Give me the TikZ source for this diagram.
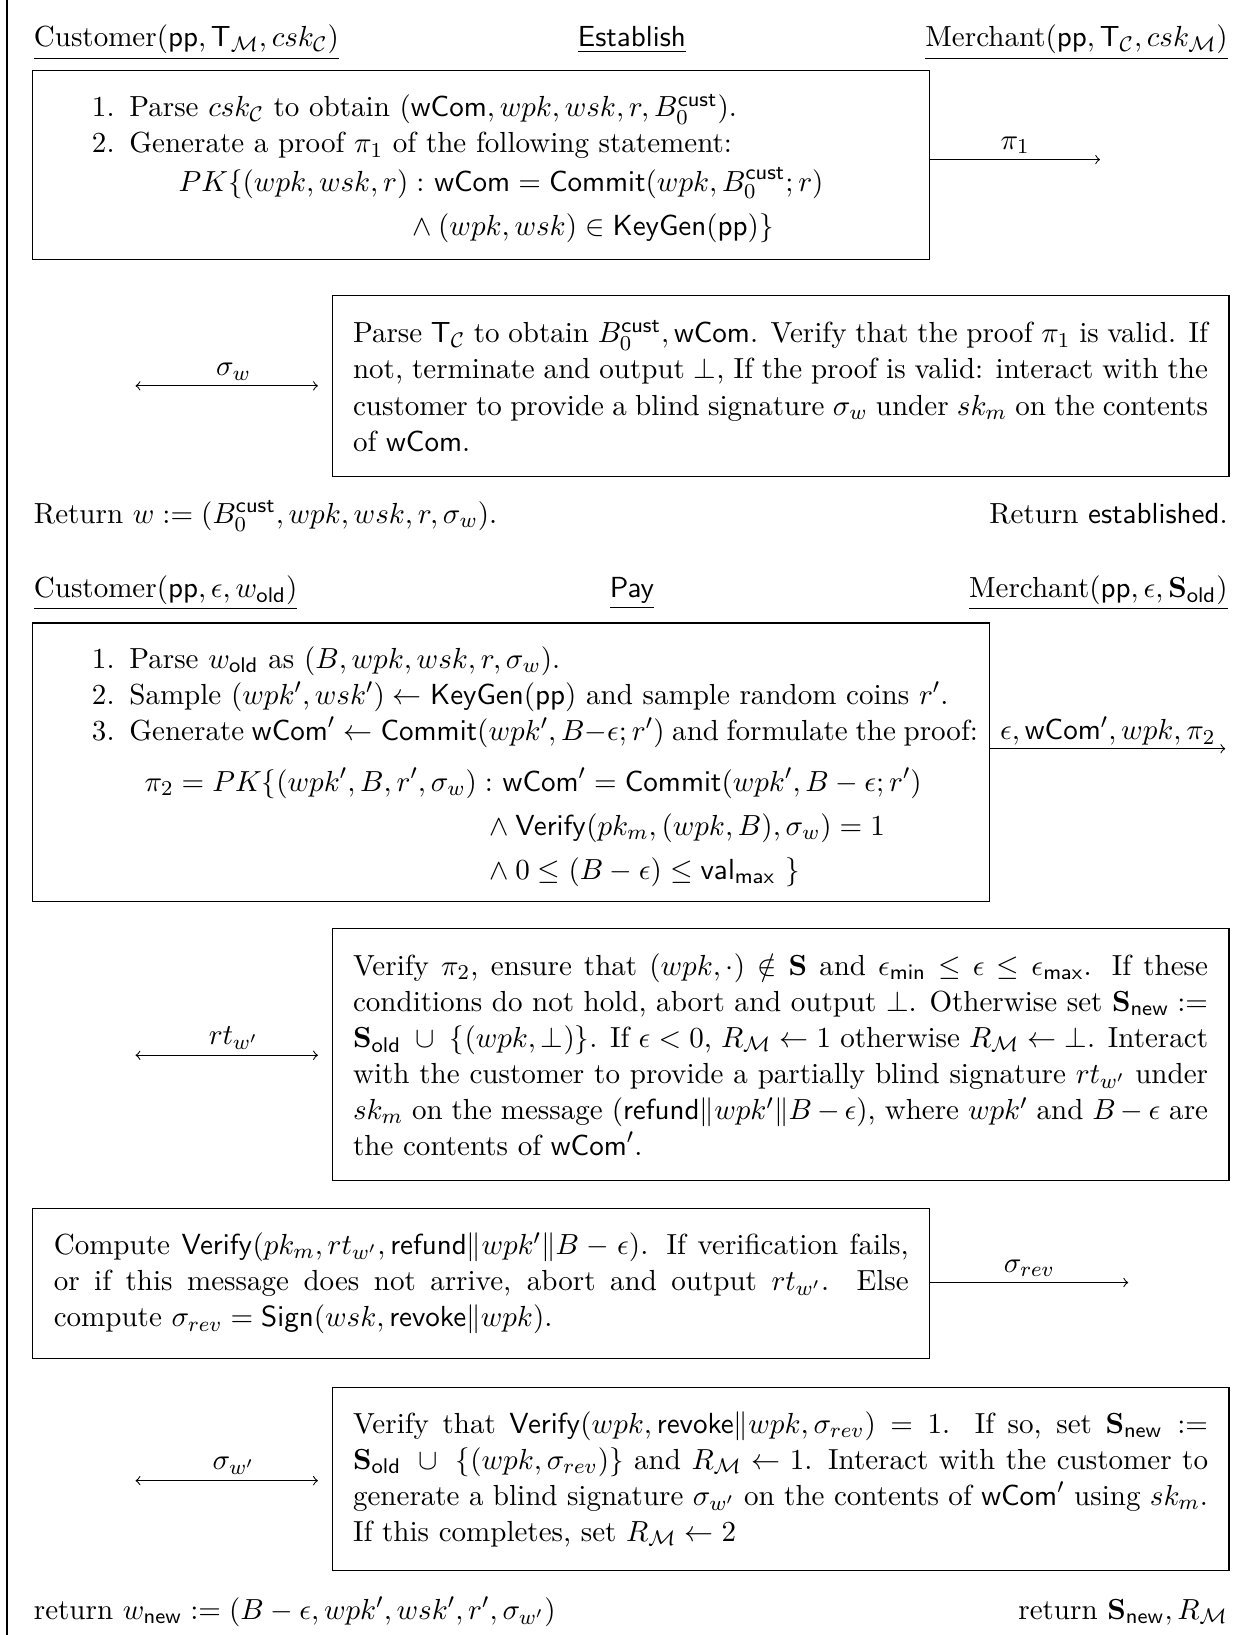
\documentclass[11pt,tikz,border=0pt]{standalone}
\usepackage{amsmath,amssymb}
\newcommand{\stepnum}[1]{\hspace*{14.4pt}\makebox[14.1pt][l]{#1.}}

\begin{document}
\begin{tikzpicture}[
  box/.style={draw, anchor=north west, inner xsep=7.9pt, inner ysep=3pt,
              text width=322.3pt, align=justify},
  listbox/.style={box, align=left},
  txt/.style={inner sep=0pt},
  flow/.style={->},
  both/.style={<->, shorten >=.181cm},
  lab/.style={above, inner sep=2pt}
]
  \useasboundingbox (0,0) rectangle (16.660,-21.662);
  \draw (0.093,0) -- (0.093,-21.662);

  % Establish
  \node[txt, anchor=base west] (hcust) at (0.442,-0.622)
    {\underline{Customer$(\mathsf{pp}, \mathsf{T}_{\mathcal{M}}, csk_{\mathcal{C}})$}};
  \node[txt, anchor=base] (hest) at (8.372,-0.622) {\underline{\textsf{Establish}}};
  \node[txt, anchor=base east] (hmerch) at (16.273,-0.622)
    {\underline{Merchant$(\mathsf{pp}, \mathsf{T}_{\mathcal{C}}, csk_{\mathcal{M}})$}};

  \node[listbox, minimum height=2.500cm] (estcust) at (0.428,-0.926) {%
    \rule{0pt}{12.6pt}\stepnum{1}\mbox{Parse $csk_{\mathcal{C}}$ to obtain $(\mathsf{wCom}, wpk, wsk, r, B_0^{\mathsf{cust}})$.}\\
    \stepnum{2}\mbox{Generate a proof $\pi_1$ of the following statement:}\\[1pt]
    \hspace*{47.1pt}$\begin{aligned}[t]PK\{(wpk, wsk, r):\ &\mathsf{wCom} = \mathsf{Commit}(wpk, B_0^{\mathsf{cust}}; r)\\
      &\kern-10.7pt\wedge (wpk, wsk) \in \mathsf{KeyGen}(\mathsf{pp})\}\end{aligned}$};
  \coordinate (pi1end) at (14.574,-2.114);
  \draw[flow] (estcust.east |- pi1end) -- node[lab]{$\pi_1$} (pi1end);

  \node[box, minimum height=2.390cm] (estmerch) at (4.393,-3.910) {%
    Parse $\mathsf{T}_{\mathcal{C}}$ to obtain $B_0^{\mathsf{cust}}, \mathsf{wCom}$. Verify that the proof
    $\pi_1$ is valid. If not, terminate and output $\bot$, If the proof is valid: interact with
    the customer to provide a blind signature $\sigma_w$ under $sk_m$ on the
    contents of $\mathsf{wCom}$.};
  \coordinate (sigw) at (1.796,-5.112);
  \draw[both] (sigw) -- node[lab]{$\sigma_w$} (estmerch.west |- sigw);

  \node[txt, anchor=base west] (estretc) at (0.442,-6.935)
    {Return $w := (B_0^{\mathsf{cust}}, wpk, wsk, r, \sigma_w)$.};
  \node[txt, anchor=base east] (estretm) at (16.273,-6.935) {Return \textsf{established}.};

  % Pay
  \node[txt, anchor=base west] (pcust) at (0.442,-7.916)
    {\underline{Customer$(\mathsf{pp}, \epsilon, w_{\mathsf{old}})$}};
  \node[txt, anchor=base] (ppay) at (8.372,-7.916) {\underline{\textsf{Pay}}};
  \node[txt, anchor=base east] (pmerch) at (16.273,-7.916)
    {\underline{Merchant$(\mathsf{pp}, \epsilon, \mathbf{S}_{\mathsf{old}})$}};

  \node[listbox, text width=345pt, minimum height=3.689cm] (paycust) at (0.428,-8.247) {%
    \rule{0pt}{12.7pt}\stepnum{1}\mbox{Parse $w_{\mathsf{old}}$ as $(B, wpk, wsk, r, \sigma_w)$.}\\
    \stepnum{2}\mbox{Sample $(wpk', wsk') \leftarrow \mathsf{KeyGen}(\mathsf{pp})$ and sample random coins $r'$.}\\
    \stepnum{3}\mbox{\spaceskip=2.9pt plus 1pt minus 1pt Generate $\mathsf{wCom}' \leftarrow \mathsf{Commit}(wpk', B{-}\epsilon; r')$ and formulate the proof:}\\[5.6pt]
    \hspace*{34.2pt}$\begin{aligned}[t]\pi_2 = PK\{(wpk', B, r', \sigma_w):\ &\mathsf{wCom}' = \mathsf{Commit}(wpk', B-\epsilon; r')\\
      &\kern-7.4pt\wedge \mathsf{Verify}(pk_m, (wpk, B), \sigma_w) = 1\\
      &\kern-7.4pt\wedge 0 \le (B-\epsilon) \le \mathsf{val}_{\mathsf{max}}\ \}\end{aligned}$};
  \coordinate (payend) at (16.233,-9.919);
  \draw[flow] (paycust.east |- payend) -- node[lab, inner sep=1pt]{$\epsilon, \mathsf{wCom}', wpk, \pi_2$} (payend);

  \node[box, minimum height=3.343cm] (paymerch) at (4.393,-12.295) {%
    Verify $\pi_2$, ensure that $(wpk,\cdot) \notin \mathbf{S}$ and $\epsilon_{\mathsf{min}} \le \epsilon \le \epsilon_{\mathsf{max}}$.
    If these\linebreak conditions do not hold, abort and output $\bot$. Otherwise set
    $\mathbf{S}_{\mathsf{new}} :=$\linebreak $\mathbf{S}_{\mathsf{old}}\ \cup\ \{(wpk, \bot)\}$. If $\epsilon < 0$,
    $R_{\mathcal{M}} \leftarrow 1$ otherwise $R_{\mathcal{M}} \leftarrow \bot$. Interact\linebreak with the customer
    to provide a partially blind signature $rt_{w'}$ under\linebreak $sk_m$ on the message
    $(\mathsf{refund}\|wpk'\|B-\epsilon)$, where $wpk'$ and $B-\epsilon$ are\linebreak the contents of $\mathsf{wCom}'$.};
  \coordinate (rtw) at (1.796,-13.981);
  \draw[both] (rtw) -- node[lab]{$rt_{w'}$} (paymerch.west |- rtw);

  \node[box, minimum height=1.990cm] (revcust) at (0.428,-15.998) {%
    Compute $\mathsf{Verify}(pk_m, rt_{w'}, \mathsf{refund}\|wpk'\|B-\epsilon)$. If verification
    fails,\linebreak or if this message does not arrive, abort and output $rt_{w'}$.
    Else\linebreak compute $\sigma_{rev} = \mathsf{Sign}(wsk, \mathsf{revoke}\|wpk)$.};
  \coordinate (revend) at (14.947,-16.992);
  \draw[flow] (revcust.east |- revend) -- node[lab]{$\sigma_{rev}$} (revend);

  \node[box, minimum height=2.432cm] (revmerch) at (4.393,-18.374) {%
    Verify that $\mathsf{Verify}(wpk, \mathsf{revoke}\|wpk, \sigma_{rev}) = 1$. If so, set
    $\mathbf{S}_{\mathsf{new}} :=$\linebreak $\mathbf{S}_{\mathsf{old}}\ \cup\ \{(wpk, \sigma_{rev})\}$ and
    $R_{\mathcal{M}} \leftarrow 1$. Interact with the customer to\linebreak generate a blind signature
    $\sigma_{w'}$ on the contents of $\mathsf{wCom}'$ using $sk_m$.\linebreak If this completes, set
    $R_{\mathcal{M}} \leftarrow 2$};
  \coordinate (sigwp) at (1.796,-19.617);
  \draw[both] (sigwp) -- node[lab]{$\sigma_{w'}$} (revmerch.west |- sigwp);

  \node[txt, anchor=base west] (payretc) at (0.442,-21.454)
    {return $w_{\mathsf{new}} := (B-\epsilon, wpk', wsk', r', \sigma_{w'})$};
  \node[txt, anchor=base east] (payretm) at (16.273,-21.454)
    {return $\mathbf{S}_{\mathsf{new}}, R_{\mathcal{M}}$};
\end{tikzpicture}
\end{document}
